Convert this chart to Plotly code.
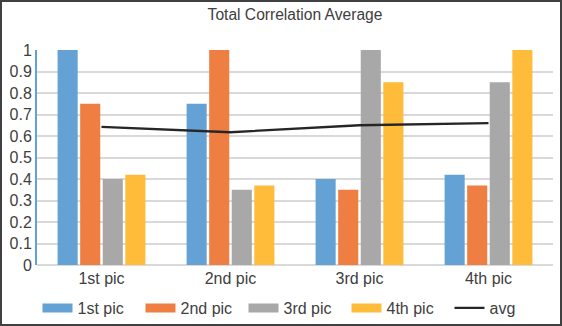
import plotly.graph_objects as go

categories = ["1st pic", "2nd pic", "3rd pic", "4th pic"]
series_names = ["1st pic", "2nd pic", "3rd pic", "4th pic"]
s1 = [1.0, 0.75, 0.40, 0.42]
s2 = [0.75, 1.0, 0.35, 0.37]
s3 = [0.40, 0.35, 1.0, 0.85]
s4 = [0.42, 0.37, 0.85, 1.0]
avg = [0.6425, 0.6175, 0.65, 0.66]
y_ticks = [0, 0.1, 0.2, 0.3, 0.4, 0.5, 0.6, 0.7, 0.8, 0.9, 1]
y_tick_labels = ["0", "0.1", "0.2", "0.3", "0.4", "0.5", "0.6", "0.7", "0.8", "0.9", "1"]

colors = ["#64a2d5", "#ef7e43", "#a8a8a8", "#ffbb3a"]
FONT = "Liberation Sans, Arial, sans-serif"
TXT = "#404040"
FS = 16
FT = 15.6

fig = go.Figure()
for name, vals, c in zip(series_names, [s1, s2, s3, s4], colors):
    fig.add_trace(go.Bar(x=categories, y=vals, name=name, marker=dict(color=c, line=dict(width=0)),
                         showlegend=False))
# legend proxies (wide boxes)
for name, c in zip(series_names, colors):
    fig.add_trace(go.Scatter(x=[None], y=[None], mode="lines", name=name,
                             line=dict(color=c, width=9)))
fig.add_trace(go.Scatter(x=categories, y=avg, mode="lines", name="avg",
                         line=dict(color="#262626", width=2.3)))

L, R, T, B = 37, 9, 50, 61
W, H = 562, 326
pw, ph = W - L - R, H - T - B

fig.update_layout(
    width=W, height=H,
    margin=dict(l=L, r=R, t=T, b=B, autoexpand=False),
    paper_bgcolor="white", plot_bgcolor="white",
    font=dict(family=FONT, size=FS, color=TXT),
    title=dict(text="Total Correlation Average", x=0.5, xanchor="center", y=0.955, yanchor="middle",
               xref="paper", font=dict(size=FT, color=TXT)),
    barmode="group", bargap=0.30, bargroupgap=0.11,
    showlegend=True,
    legend=dict(orientation="h", x=0.5, xanchor="center", y=-0.2, yanchor="middle",
                font=dict(size=FS, color=TXT), entrywidth=58, entrywidthmode="pixels",
                bgcolor="rgba(0,0,0,0)", itemclick=False, tracegroupgap=0),
    xaxis=dict(showgrid=False, showline=False, ticks="", tickfont=dict(size=FS, color=TXT),
               ticklabelstandoff=2),
    yaxis=dict(range=[0, 1.0], tickvals=y_ticks, ticktext=y_tick_labels, showgrid=True,
               gridcolor="#d9d9d9", gridwidth=2, zeroline=True, zerolinecolor="#d9d9d9",
               zerolinewidth=2, showline=True, linecolor="#64a2d5", linewidth=2,
               ticks="", tickfont=dict(size=FS, color=TXT)),
    shapes=[dict(type="rect", xref="paper", yref="paper",
                 x0=-(L - 1) / pw, x1=1 + (R - 1) / pw, y0=-(B - 1) / ph, y1=1 + (T - 1) / ph,
                 line=dict(color="#404040", width=2))],
)

fig.write_html("out.html")
